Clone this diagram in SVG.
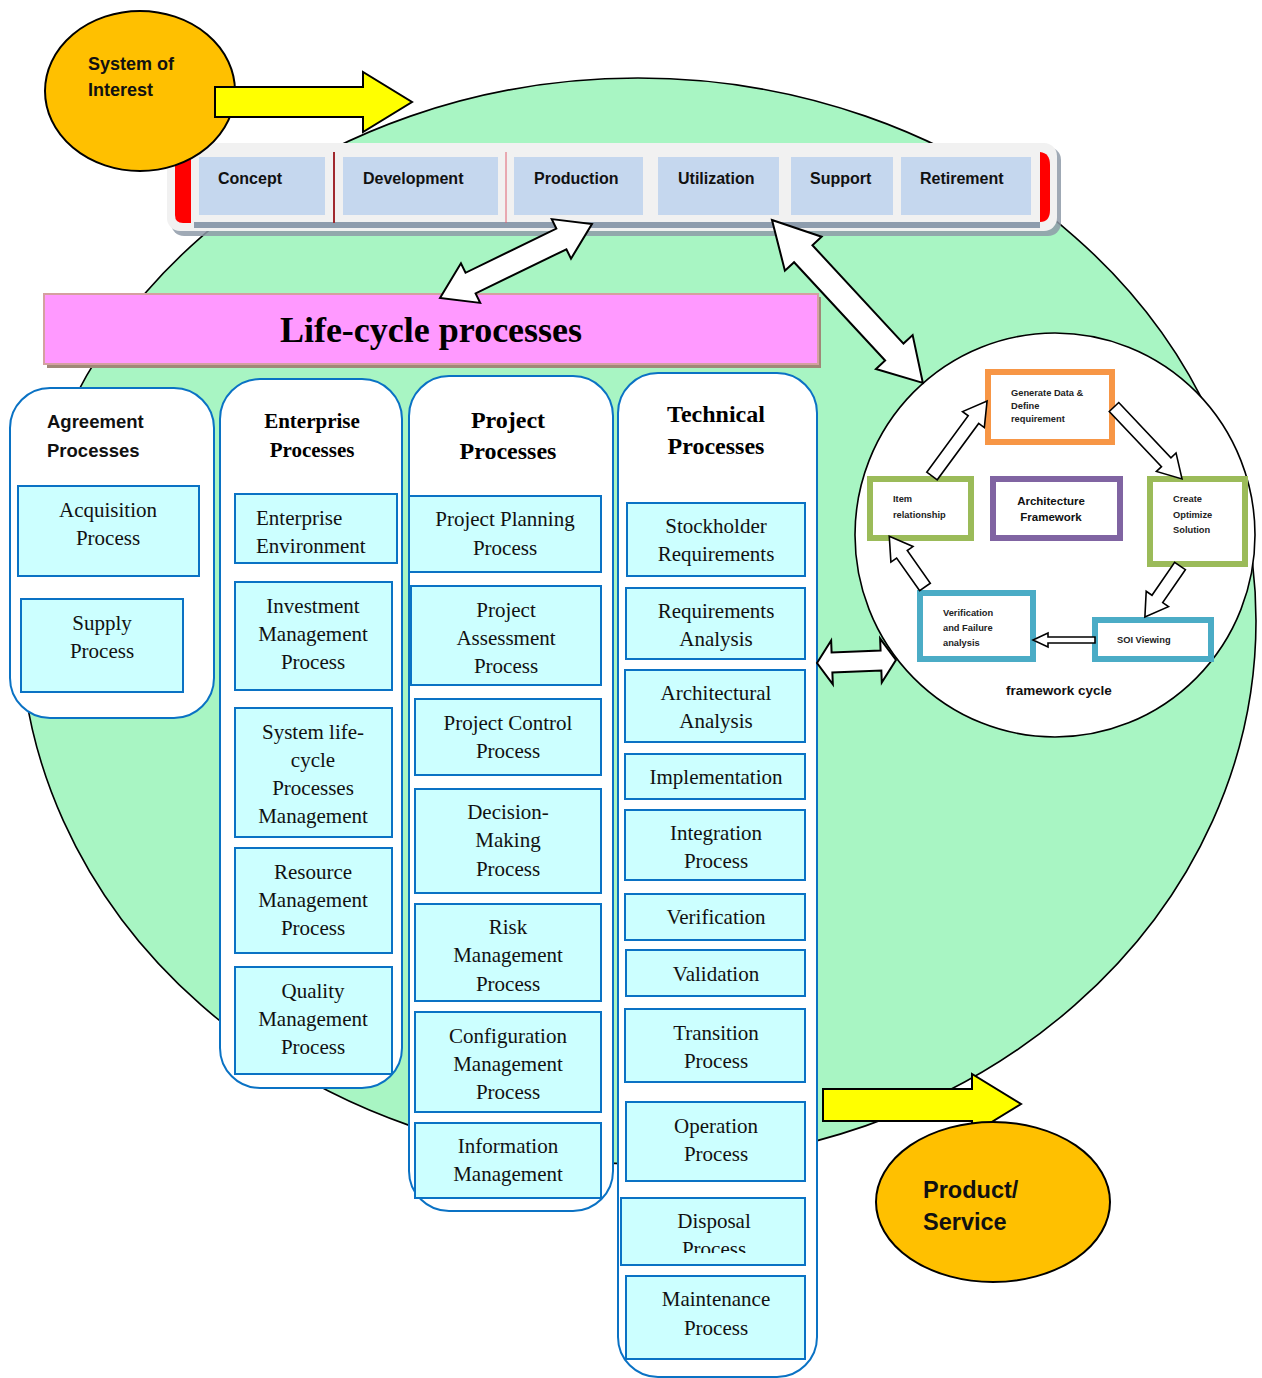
<svg xmlns="http://www.w3.org/2000/svg" width="1262" height="1378" viewBox="0 0 1262 1378">
  <style>
    .stage { fill: #C5D7EE; }
    .stxt { font-family: "Liberation Sans", Arial, sans-serif; font-weight: bold; font-size: 16px; fill: #111; }
    .col { fill: #FFFFFF; stroke: #0A72C4; stroke-width: 2; }
    .box { fill: #CCFFFF; stroke: #0A72C4; stroke-width: 2; }
    .btxt { font-family: "Liberation Serif", "Times New Roman", serif; font-size: 21px; fill: #111; text-anchor: middle; }
    .btxt.left { text-anchor: start; }
    .ttl { font-family: "Liberation Serif", "Times New Roman", serif; font-weight: bold; fill: #000; text-anchor: middle; }
    .sans { font-family: "Liberation Sans", Arial, sans-serif; font-weight: bold; fill: #111; }
    .warrow { fill: #FFFFFF; stroke: #000; stroke-width: 2; stroke-linejoin: miter; }
    .sarrow { fill: #FFFFFF; stroke: #000; stroke-width: 1.6; }
    .yarrow { fill: #FFFF00; stroke: #000; stroke-width: 2; }
    .oval { fill: #FFC000; stroke: #000; stroke-width: 2; }
    .ftxt { font-family: "Liberation Sans", Arial, sans-serif; font-weight: bold; font-size: 9.3px; fill: #222; }
  </style>
  <defs>
    <clipPath id="disposalClip">
      <rect x="621" y="1198" width="184" height="55"/>
    </clipPath>
  </defs>

  <!-- background field -->
  <ellipse cx="638" cy="621" rx="618" ry="543" fill="#A8F5C3" stroke="#000" stroke-width="1.6"/>

  <!-- life-cycle stage bar -->
  <g id="stage-bar">
    <rect x="171" y="147" width="890" height="89" rx="13" fill="#8E9AA8" opacity="0.85"/>
    <rect x="167" y="143" width="890" height="88" rx="13" fill="#F1F1F1"/>
    <rect x="194" y="222" width="846" height="6" fill="#8D9CAD"/>
    <path d="M175,152 H191 V223 H183 Q175,223 175,215 Z" fill="#FF0000"/>
    <path d="M1040,152 Q1050,153 1050,165 V210 Q1050,222 1040,222 Z" fill="#FF0000"/>
    <line x1="334" y1="152" x2="334" y2="223" stroke="#A0282E" stroke-width="2"/>
    <line x1="506" y1="152" x2="506" y2="223" stroke="#E06070" stroke-width="1"/>
    <g id="stage-concept"><rect class="stage" x="199" y="157" width="126" height="58"/><text class="stxt" x="218" y="184">Concept</text></g>
    <g id="stage-development"><rect class="stage" x="343" y="157" width="155" height="58"/><text class="stxt" x="363" y="184">Development</text></g>
    <g id="stage-production"><rect class="stage" x="514" y="157" width="129" height="58"/><text class="stxt" x="534" y="184">Production</text></g>
    <g id="stage-utilization"><rect class="stage" x="658" y="157" width="121" height="58"/><text class="stxt" x="678" y="184">Utilization</text></g>
    <g id="stage-support"><rect class="stage" x="791" y="157" width="102" height="58"/><text class="stxt" x="810" y="184">Support</text></g>
    <g id="stage-retirement"><rect class="stage" x="901" y="157" width="130" height="58"/><text class="stxt" x="920" y="184">Retirement</text></g>
  </g>

  <!-- system of interest -->
  <g id="system-of-interest">
    <ellipse class="oval" cx="140" cy="91" rx="95" ry="80"/>
    <text class="sans" font-size="18" x="88" y="70">System of</text>
    <text class="sans" font-size="18" x="88" y="96">Interest</text>
  </g>

  <!-- banner -->
  <g id="lifecycle-banner">
    <rect x="47" y="297" width="774" height="71" fill="#A08878"/>
    <rect x="44" y="294" width="774" height="70" fill="#FF99FF" stroke="#D4A0A0" stroke-width="2"/>
    <text class="ttl" font-size="36" x="431" y="342">Life-cycle processes</text>
  </g>

  <!-- framework cycle -->
  <g id="framework-cycle">
    <ellipse cx="1055" cy="535" rx="200" ry="202" fill="#FFFFFF" stroke="#000" stroke-width="1.6"/>
    <g id="fw-generate">
      <rect x="988" y="372" width="124" height="70" fill="#FFF" stroke="#F79646" stroke-width="6"/>
      <text class="ftxt" x="1011" y="396">Generate Data &amp;</text>
      <text class="ftxt" x="1011" y="409">Define</text>
      <text class="ftxt" x="1011" y="422">requirement</text>
    </g>
    <g id="fw-item">
      <rect x="870" y="479" width="101" height="59" fill="#FFF" stroke="#9BBB59" stroke-width="6"/>
      <text class="ftxt" x="893" y="502">Item</text>
      <text class="ftxt" x="893" y="518">relationship</text>
    </g>
    <g id="fw-architecture">
      <rect x="993" y="479" width="127" height="59" fill="#FFF" stroke="#8064A2" stroke-width="6"/>
      <text class="sans" font-size="11.5" x="1051" y="505" text-anchor="middle" fill="#222">Architecture</text>
      <text class="sans" font-size="11.5" x="1051" y="521" text-anchor="middle" fill="#222">Framework</text>
    </g>
    <g id="fw-create">
      <rect x="1150" y="479" width="95" height="85" fill="#FFF" stroke="#9BBB59" stroke-width="6"/>
      <text class="ftxt" x="1173" y="502">Create</text>
      <text class="ftxt" x="1173" y="518">Optimize</text>
      <text class="ftxt" x="1173" y="533">Solution</text>
    </g>
    <g id="fw-verification">
      <rect x="920" y="593" width="113" height="66" fill="#FFF" stroke="#4BACC6" stroke-width="6"/>
      <text class="ftxt" x="943" y="616">Verification</text>
      <text class="ftxt" x="943" y="631">and Failure</text>
      <text class="ftxt" x="943" y="646">analysis</text>
    </g>
    <g id="fw-soi">
      <rect x="1095" y="620" width="116" height="39" fill="#FFF" stroke="#4BACC6" stroke-width="6"/>
      <text class="ftxt" x="1117" y="643">SOI Viewing</text>
    </g>
    <text class="sans" font-size="13.5" x="1006" y="695">framework cycle</text>
  </g>

  <!-- process columns -->
  <g id="agreement-processes">
    <rect class="col" x="10" y="388" width="204" height="330" rx="40"/>
    <text class="sans" font-size="18.5" x="47" y="428">Agreement</text>
    <text class="sans" font-size="18.5" x="47" y="457">Processes</text>
    <g id="acquisition"><rect class="box" x="18" y="486" width="181" height="90"/>
      <text class="btxt" x="108" y="517">Acquisition</text><text class="btxt" x="108" y="545">Process</text></g>
    <g id="supply"><rect class="box" x="21" y="599" width="162" height="93"/>
      <text class="btxt" x="102" y="630">Supply</text><text class="btxt" x="102" y="658">Process</text></g>
  </g>

  <g id="enterprise-processes">
    <rect class="col" x="220" y="379" width="182" height="709" rx="40"/>
    <text class="ttl" font-size="21" x="312" y="428">Enterprise</text>
    <text class="ttl" font-size="21" x="312" y="457">Processes</text>
    <g id="enterprise-environment"><rect class="box" x="235" y="494" width="162" height="69"/>
      <text class="btxt left" x="256" y="525">Enterprise</text><text class="btxt left" x="256" y="553">Environment</text></g>
    <g id="investment-management"><rect class="box" x="235" y="582" width="157" height="108"/>
      <text class="btxt" x="313" y="613">Investment</text><text class="btxt" x="313" y="641">Management</text><text class="btxt" x="313" y="669">Process</text></g>
    <g id="slc-management"><rect class="box" x="235" y="708" width="157" height="129"/>
      <text class="btxt" x="313" y="739">System life-</text><text class="btxt" x="313" y="767">cycle</text><text class="btxt" x="313" y="795">Processes</text><text class="btxt" x="313" y="823">Management</text></g>
    <g id="resource-management"><rect class="box" x="235" y="848" width="157" height="105"/>
      <text class="btxt" x="313" y="879">Resource</text><text class="btxt" x="313" y="907">Management</text><text class="btxt" x="313" y="935">Process</text></g>
    <g id="quality-management"><rect class="box" x="235" y="967" width="157" height="107"/>
      <text class="btxt" x="313" y="998">Quality</text><text class="btxt" x="313" y="1026">Management</text><text class="btxt" x="313" y="1054">Process</text></g>
  </g>

  <g id="project-processes">
    <rect class="col" x="409" y="376" width="204" height="835" rx="40"/>
    <text class="ttl" font-size="24" x="508" y="428">Project</text>
    <text class="ttl" font-size="24" x="508" y="459">Processes</text>
    <g id="project-planning"><rect class="box" x="409" y="496" width="192" height="76"/>
      <text class="btxt" x="505" y="526">Project Planning</text><text class="btxt" x="505" y="555">Process</text></g>
    <g id="project-assessment"><rect class="box" x="411" y="586" width="190" height="99"/>
      <text class="btxt" x="506" y="617">Project</text><text class="btxt" x="506" y="645">Assessment</text><text class="btxt" x="506" y="673">Process</text></g>
    <g id="project-control"><rect class="box" x="415" y="699" width="186" height="76"/>
      <text class="btxt" x="508" y="730">Project Control</text><text class="btxt" x="508" y="758">Process</text></g>
    <g id="decision-making"><rect class="box" x="415" y="789" width="186" height="104"/>
      <text class="btxt" x="508" y="819">Decision-</text><text class="btxt" x="508" y="847">Making</text><text class="btxt" x="508" y="876">Process</text></g>
    <g id="risk-management"><rect class="box" x="415" y="904" width="186" height="97"/>
      <text class="btxt" x="508" y="934">Risk</text><text class="btxt" x="508" y="962">Management</text><text class="btxt" x="508" y="991">Process</text></g>
    <g id="configuration-management"><rect class="box" x="415" y="1012" width="186" height="100"/>
      <text class="btxt" x="508" y="1043">Configuration</text><text class="btxt" x="508" y="1071">Management</text><text class="btxt" x="508" y="1099">Process</text></g>
    <g id="information-management"><rect class="box" x="415" y="1123" width="186" height="75"/>
      <text class="btxt" x="508" y="1153">Information</text><text class="btxt" x="508" y="1181">Management</text></g>
  </g>

  <g id="technical-processes">
    <rect class="col" x="618" y="373" width="199" height="1004" rx="40"/>
    <text class="ttl" font-size="24" x="716" y="422">Technical</text>
    <text class="ttl" font-size="24" x="716" y="454">Processes</text>
    <g id="stockholder-requirements"><rect class="box" x="627" y="503" width="178" height="73"/>
      <text class="btxt" x="716" y="533">Stockholder</text><text class="btxt" x="716" y="561">Requirements</text></g>
    <g id="requirements-analysis"><rect class="box" x="626" y="588" width="179" height="71"/>
      <text class="btxt" x="716" y="618">Requirements</text><text class="btxt" x="716" y="646">Analysis</text></g>
    <g id="architectural-analysis"><rect class="box" x="625" y="670" width="180" height="72"/>
      <text class="btxt" x="716" y="700">Architectural</text><text class="btxt" x="716" y="728">Analysis</text></g>
    <g id="implementation"><rect class="box" x="625" y="754" width="180" height="45"/>
      <text class="btxt" x="716" y="784">Implementation</text></g>
    <g id="integration"><rect class="box" x="625" y="810" width="180" height="70"/>
      <text class="btxt" x="716" y="840">Integration</text><text class="btxt" x="716" y="868">Process</text></g>
    <g id="verification"><rect class="box" x="625" y="894" width="180" height="46"/>
      <text class="btxt" x="716" y="924">Verification</text></g>
    <g id="validation"><rect class="box" x="626" y="950" width="179" height="46"/>
      <text class="btxt" x="716" y="981">Validation</text></g>
    <g id="transition"><rect class="box" x="625" y="1009" width="180" height="73"/>
      <text class="btxt" x="716" y="1040">Transition</text><text class="btxt" x="716" y="1068">Process</text></g>
    <g id="operation"><rect class="box" x="626" y="1102" width="179" height="79"/>
      <text class="btxt" x="716" y="1133">Operation</text><text class="btxt" x="716" y="1161">Process</text></g>
    <g id="disposal"><rect class="box" x="621" y="1198" width="184" height="67"/>
      <g clip-path="url(#disposalClip)"><text class="btxt" x="714" y="1228">Disposal</text><text class="btxt" x="714" y="1256">Process</text></g></g>
    <g id="maintenance"><rect class="box" x="626" y="1276" width="179" height="83"/>
      <text class="btxt" x="716" y="1306">Maintenance</text><text class="btxt" x="716" y="1335">Process</text></g>
  </g>

  <!-- product / service -->
  <g id="product-service">
    <polygon class="yarrow" points="823,1089 972,1089 972,1074 1021,1104 972,1134 972,1121 823,1121"/>
    <ellipse class="oval" cx="993" cy="1202" rx="117" ry="80"/>
    <text class="sans" font-size="23.5" x="923" y="1198">Product/</text>
    <text class="sans" font-size="23.5" x="923" y="1230">Service</text>
  </g>

  <!-- connectors -->
  <g id="connectors">
    <polygon class="yarrow" points="215,87 363,87 363,72 412,102 363,132 363,117 215,117"/>
    <!-- Production <-> Life-cycle processes -->
    <polygon class="warrow" transform="translate(440,298) rotate(-25.96)"
      points="0,0 34,-22 34,-11.5 135,-11.5 135,-22 169,0 135,22 135,11.5 34,11.5 34,22"/>
    <!-- Utilization <-> framework cycle -->
    <polygon class="warrow" transform="translate(772,220) rotate(47.2)"
      points="0,0 46,-25 46,-12.5 180,-12.5 180,-25 222,0 180,25 180,12.5 46,12.5 46,25"/>
    <!-- Technical processes <-> framework cycle -->
    <polygon class="warrow" transform="translate(817,663) rotate(-2.2)"
      points="0,0 15,-22 15,-10 64,-10 64,-22 79,0 64,22 64,10 15,10 15,22"/>
    <!-- framework cycle steps -->
    <polygon class="sarrow" transform="translate(932,476) rotate(-53.7)" points="0,-6.5 70,-6.5 70,-13.5 93,0 70,13.5 70,6.5 0,6.5"/>
    <polygon class="sarrow" transform="translate(1114,407) rotate(46.6)" points="0,-6.5 76,-6.5 76,-13.5 99,0 76,13.5 76,6.5 0,6.5"/>
    <polygon class="sarrow" transform="translate(1180,566) rotate(124.5)" points="0,-6.5 40,-6.5 40,-13.5 62,0 40,13.5 40,6.5 0,6.5"/>
    <polygon class="sarrow" transform="translate(1095,640) rotate(180)" points="0,-3 47,-3 47,-7 62,0 47,7 47,3 0,3"/>
    <polygon class="sarrow" transform="translate(925,587) rotate(-125.2)" points="0,-6.5 40,-6.5 40,-13.5 62,0 40,13.5 40,6.5 0,6.5"/>
  </g>
</svg>
